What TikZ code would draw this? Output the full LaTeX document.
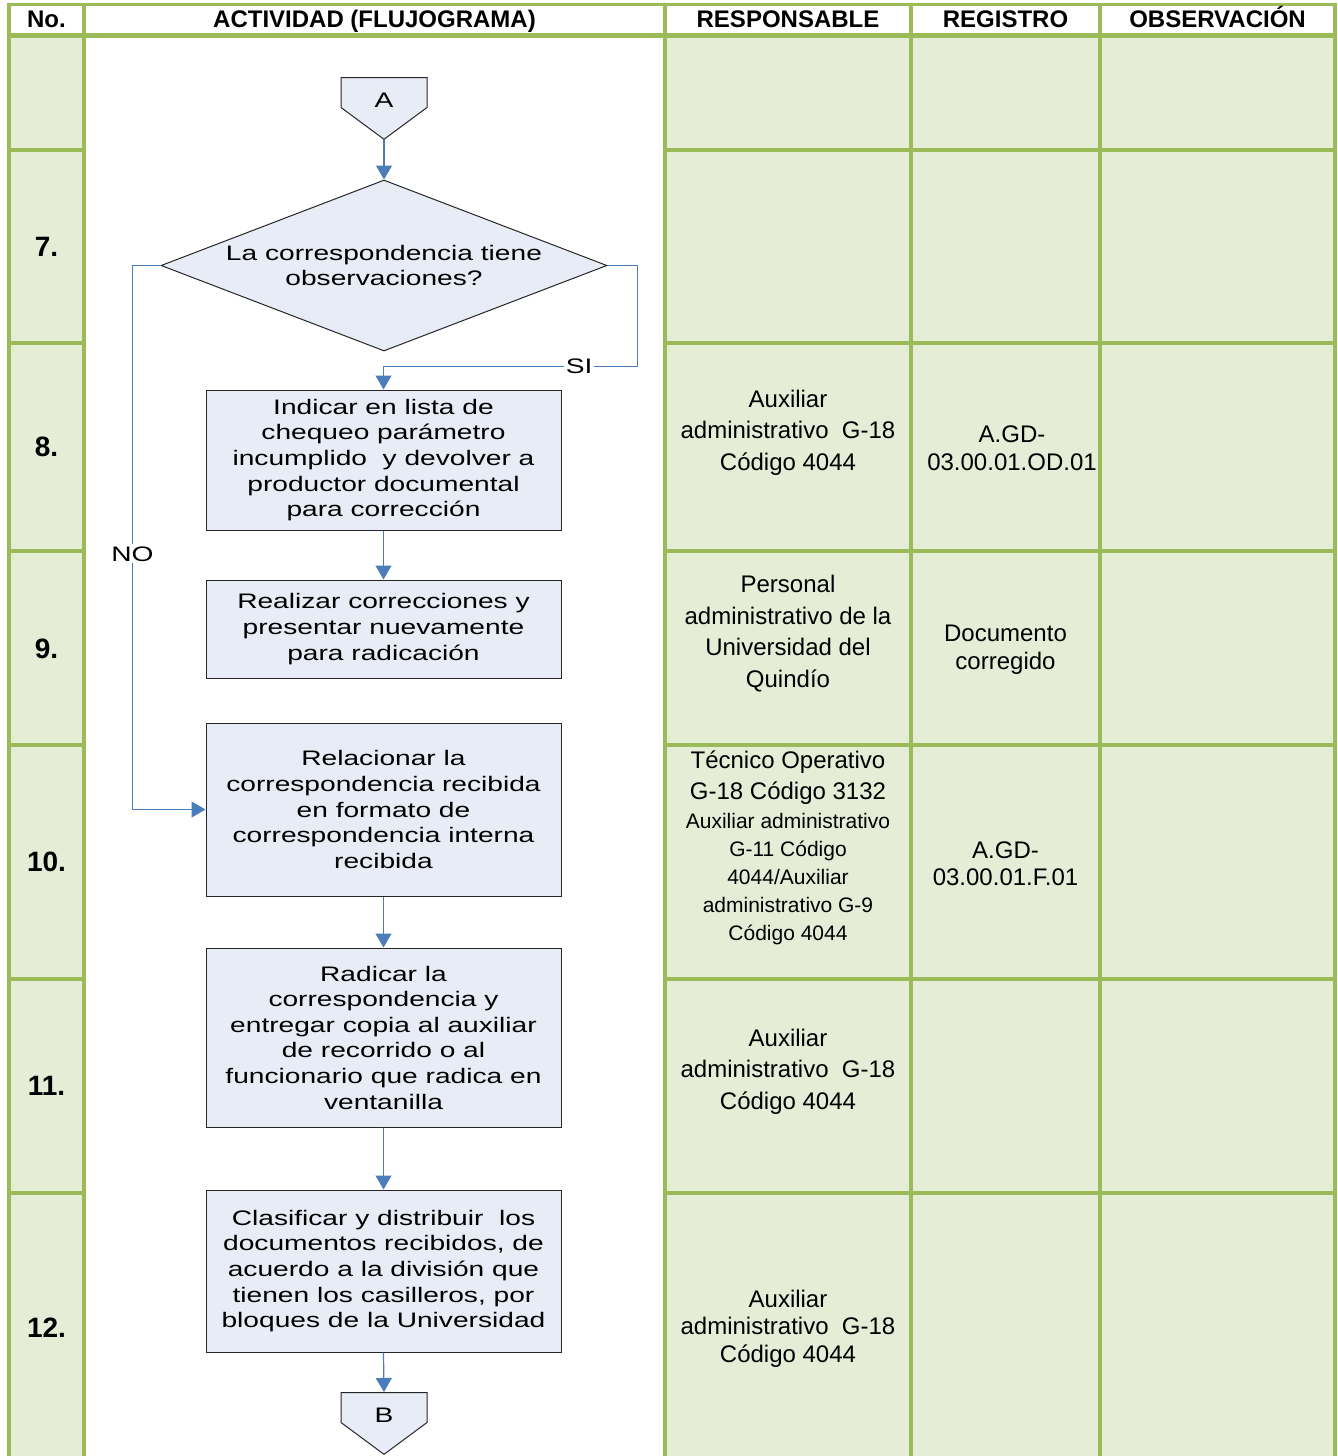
\documentclass[tikz,border=0pt]{standalone}
\usepackage{fontspec}
\setmainfont{Liberation Sans}
\newfontfamily\flowfont[FakeStretch=1.34]{Liberation Sans}
\usetikzlibrary{shapes.geometric,shapes.symbols,arrows.meta}
\definecolor{gridgreen}{HTML}{9BBB59}
\definecolor{cellgreen}{HTML}{E5EDD7}
\definecolor{boxblue}{HTML}{E7ECF6}
\definecolor{flowblue}{HTML}{4A7EBB}
\tikzset{
  gridline/.style={draw=gridgreen, line width=1.75pt},
  head/.style={anchor=base, font=\bfseries\fontsize{12}{12}\selectfont},
  rownum/.style={font=\bfseries\fontsize{14}{14}\selectfont},
  respcell/.style={align=center, font=\fontsize{12}{15.75}\selectfont},
  smallcell/.style={align=center, font=\fontsize{10.5}{14}\selectfont},
  regcell/.style={align=center, font=\fontsize{12}{13.75}\selectfont},
  flowtext/.style={align=center, font=\flowfont\fontsize{10.5}{12.8}\selectfont},
  process/.style={flowtext, draw=black!85, fill=boxblue, line width=0.5pt, minimum width=177.5pt, inner sep=0pt},
  decision/.style={diamond, draw=black!85, fill=boxblue, line width=0.5pt, minimum width=223pt, minimum height=85.5pt, inner sep=0pt},
  offpage/.style={signal, signal to=south, signal pointer angle=107, draw=black!85, fill=boxblue, line width=0.5pt, minimum width=43pt, minimum height=15.5pt, inner sep=0pt, text height=15pt, text depth=0pt, flowtext},
  flow/.style={draw=flowblue, line width=0.6pt, -{Triangle[width=8pt,length=7pt]}},
  flowlbl/.style={flowtext, fill=white, inner sep=1pt}
}
\begin{document}
\begin{tikzpicture}[x=0.5pt,y=-0.5pt]
  \useasboundingbox (0,0) rectangle (1338,1456);
  % celdas verdes
  \fill[cellgreen] (9,36) rectangle (84,1456);
  \fill[cellgreen] (665,36) rectangle (1335,1456);
  % rejilla de la tabla
  \foreach \x in {9,84,665,911,1100,1335}
    \draw[gridline] (\x,3) -- (\x,1456);
  \draw[gridline] (9,4.5) -- (1335,4.5);
  \draw[gridline, line width=2.5pt] (9,35.5) -- (1335,35.5);
  \foreach \y in {150,343,551,745,979,1193} {
    \draw[gridline] (9,\y) -- (84,\y);
    \draw[gridline] (665,\y) -- (1335,\y);
  }
  % encabezado
  \node[head] (hno) at (46.5,27.5) {No.};
  \node[head] (hact) at (374.5,27.5) {ACTIVIDAD (FLUJOGRAMA)};
  \node[head] (hresp) at (788,27.5) {RESPONSABLE};
  \node[head] (hreg) at (1005.5,27.5) {REGISTRO};
  \node[head] (hobs) at (1217.5,27.5) {OBSERVACIÓN};
  % numeros
  \node[rownum] (n7) at (46.5,247) {7.};
  \node[rownum] (n8) at (46.5,447) {8.};
  \node[rownum] (n9) at (46.5,649) {9.};
  \node[rownum] (n10) at (46.5,862) {10.};
  \node[rownum] (n11) at (46.5,1086) {11.};
  \node[rownum] (n12) at (46.5,1328) {12.};
  % flujograma
  \node[offpage, anchor=north] (conA) at (384,77) {A};
  \node[decision, label={[flowtext]center:La correspondencia tiene\\observaciones?}] (dec) at (384,265.5) {};
  \node[process, minimum height=70pt] (act8) at (383.5,460) {Indicar en lista de\\chequeo parámetro\\incumplido\ \ y devolver a\\productor documental\\para corrección};
  \node[process, minimum height=49pt] (act9) at (383.5,629) {Realizar correcciones y\\presentar nuevamente\\para radicación};
  \node[process, minimum height=86.5pt] (act10) at (383.5,809.5) {Relacionar la\\correspondencia recibida\\en formato de\\correspondencia interna\\recibida};
  \node[process, minimum height=89.5pt] (act11) at (383.5,1037.5) {Radicar la\\correspondencia y\\entregar copia al auxiliar\\de recorrido o al\\funcionario que radica en\\ventanilla};
  \node[process, minimum height=81pt] (act12) at (383.5,1271) {Clasificar y distribuir\ \ los\\documentos recibidos, de\\acuerdo a la división que\\tienen los casilleros, por\\bloques de la Universidad};
  \node[offpage, anchor=north] (conB) at (384,1392) {B};
  \draw[flow] (conA.south) -- (dec.north);
  \draw[flow] (dec.west) -- ++(-28,0) |- node[pos=0.265, flowlbl]{NO} (act10.west);
  \draw[flow] (dec.east) -- ++(30,0) |- node[pos=0.615, flowlbl]{SI} ([yshift=11.5pt]act8.north) -- (act8.north);
  \draw[flow] (act8.south) -- (act9.north);
  \draw[flow] (act10.south) -- (act11.north);
  \draw[flow] (act11.south) -- (act12.north);
  \draw[flow] (act12.south) -- (conB.north);
  % responsable y registro
  \node[respcell] (resp8) at (788,432.5) {Auxiliar\\administrativo\ \ G-18\\Código 4044};
  \node[regcell] (reg8) at (1012,448) {A.GD-\\03.00.01.OD.01};
  \node[respcell] (resp9) at (788,633.5) {Personal\\administrativo de la\\Universidad del\\Quindío};
  \node[regcell] (reg9) at (1005.5,649.5) {Documento\\corregido};
  \node[respcell] (resp10) at (788,777.5) {Técnico Operativo\\G-18 Código 3132};
  \node[smallcell] (resp10b) at (788,879) {Auxiliar administrativo\\G-11 Código\\4044/Auxiliar\\administrativo G-9\\Código 4044};
  \node[regcell] (reg10) at (1005.5,863.5) {A.GD-\\03.00.01.F.01};
  \node[respcell] (resp11) at (788,1071.5) {Auxiliar\\administrativo\ \ G-18\\Código 4044};
  \node[regcell] (resp12) at (788,1328.5) {Auxiliar\\administrativo\ \ G-18\\Código 4044};
\end{tikzpicture}
\end{document}
